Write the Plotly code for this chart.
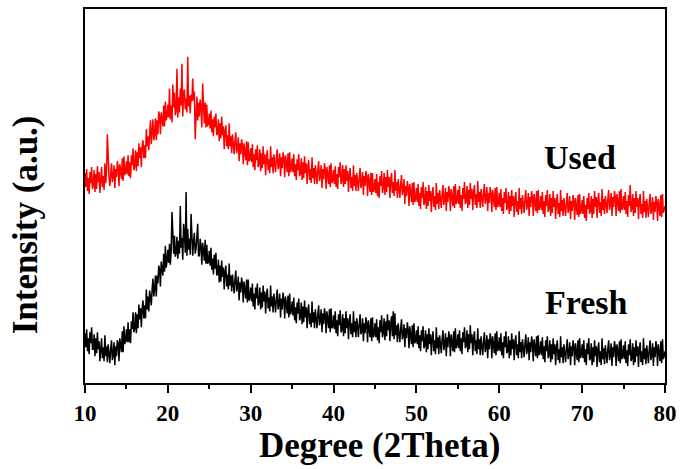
import plotly.graph_objects as go

# 2-theta scan grid (degrees), 0.1 deg steps from 10 to 80
two_theta = [round(10 + 0.1 * i, 1) for i in range(701)]

# one row per degree (x.0 ... x.9), last value at 80.0
fresh = [
    50, 36, 54, 32, 45, 29, 51, 40, 56, 34,
    34, 49, 27, 45, 30, 51, 34, 42, 22, 40,
    45, 25, 36, 22, 48, 27, 37, 21, 39, 30,
    20, 34, 43, 23, 28, 41, 18, 37, 27, 43,
    40, 22, 45, 38, 31, 52, 31, 57, 39, 43,
    54, 41, 61, 41, 54, 40, 62, 54, 71, 51,
    55, 71, 50, 69, 55, 79, 64, 75, 56, 75,
    83, 65, 78, 65, 94, 74, 87, 72, 93, 86,
    78, 94, 105, 87, 94, 108, 87, 108, 100, 118,
    114, 97, 122, 114, 108, 130, 112, 138, 116, 123,
    134, 121, 140, 119, 133, 172, 141, 130, 148, 127,
    131, 147, 125, 143, 130, 178, 136, 146, 124, 160,
    151, 131, 192, 128, 155, 134, 145, 129, 170, 139,
    128, 142, 151, 130, 135, 146, 160, 128, 128, 145,
    138, 119, 141, 133, 123, 144, 120, 139, 120, 122,
    133, 118, 136, 114, 125, 109, 129, 115, 131, 108,
    110, 124, 101, 118, 102, 123, 107, 116, 94, 112,
    118, 97, 109, 94, 120, 98, 108, 92, 109, 99,
    90, 104, 113, 92, 96, 107, 83, 101, 91, 106,
    100, 81, 102, 94, 85, 104, 81, 104, 83, 86,
    96, 82, 100, 77, 90, 74, 96, 85, 100, 78,
    81, 96, 74, 91, 76, 98, 82, 92, 70, 88,
    95, 75, 86, 72, 98, 77, 87, 71, 90, 81,
    71, 85, 94, 74, 79, 90, 66, 85, 74, 91,
    84, 65, 87, 79, 70, 88, 66, 90, 69, 72,
    82, 68, 86, 63, 76, 60, 81, 70, 85, 63,
    66, 81, 59, 77, 61, 83, 66, 76, 55, 73,
    79, 59, 70, 56, 82, 61, 71, 55, 74, 65,
    55, 69, 78, 58, 63, 74, 51, 70, 59, 75,
    69, 50, 72, 64, 55, 74, 51, 75, 55, 57,
    68, 54, 72, 50, 63, 47, 69, 58, 73, 51,
    54, 69, 47, 65, 50, 72, 55, 65, 44, 62,
    69, 49, 60, 46, 72, 51, 62, 46, 65, 56,
    46, 60, 69, 49, 53, 65, 42, 60, 50, 66,
    60, 41, 63, 55, 46, 65, 42, 66, 46, 49,
    60, 46, 64, 43, 56, 40, 63, 51, 68, 46,
    50, 65, 43, 62, 47, 69, 53, 63, 42, 60,
    67, 47, 72, 44, 70, 48, 58, 41, 60, 50,
    41, 55, 64, 44, 48, 59, 36, 55, 45, 61,
    54, 35, 57, 48, 39, 58, 36, 60, 40, 42,
    53, 39, 57, 35, 48, 32, 53, 42, 57, 35,
    38, 53, 31, 49, 34, 55, 39, 49, 28, 45,
    52, 32, 43, 29, 56, 35, 46, 29, 48, 39,
    30, 44, 53, 33, 38, 50, 27, 46, 36, 52,
    46, 27, 49, 41, 32, 52, 31, 55, 35, 38,
    49, 35, 53, 32, 45, 29, 51, 41, 56, 35,
    38, 53, 31, 49, 34, 58, 40, 49, 28, 45,
    52, 32, 43, 29, 55, 34, 44, 28, 47, 37,
    28, 42, 51, 31, 36, 48, 25, 44, 34, 50,
    44, 25, 47, 39, 30, 50, 28, 52, 32, 35,
    46, 32, 50, 28, 41, 25, 47, 36, 52, 30,
    32, 47, 25, 43, 28, 50, 34, 44, 23, 41,
    48, 28, 39, 25, 52, 31, 41, 25, 44, 35,
    26, 40, 49, 29, 34, 46, 23, 41, 31, 47,
    41, 22, 44, 36, 27, 47, 25, 48, 28, 31,
    42, 28, 46, 24, 37, 21, 43, 32, 47, 25,
    28, 43, 21, 39, 24, 45, 29, 39, 18, 36,
    43, 23, 34, 20, 47, 26, 36, 20, 39, 30,
    21, 35, 44, 24, 29, 41, 18, 37, 27, 43,
    37, 18, 40, 32, 23, 43, 21, 45, 25, 28,
    39, 25, 43, 21, 34, 18, 40, 29, 45, 23,
    25, 40, 18, 36, 21, 43, 27, 37, 16, 34,
    41, 21, 32, 18, 45, 24, 35, 19, 38, 29,
    20, 34, 43, 23, 28, 40, 17, 36, 26, 42,
    36, 17, 39, 31, 22, 42, 20, 44, 24, 27,
    38, 24, 42, 20, 33, 17, 39, 28, 44, 22,
    25, 40, 18, 36, 21, 43, 27, 37, 16, 34,
    41, 21, 32, 18, 45, 24, 35, 19, 38, 29,
    20, 34, 43, 23, 28, 40, 17, 36, 26, 42,
    36, 17, 39, 31, 22, 42, 20, 44, 24, 27,
    32,
]

used = [
    211, 197, 215, 193, 206, 190, 212, 201, 217, 195,
    199, 214, 192, 210, 195, 218, 202, 212, 191, 210,
    217, 197, 208, 194, 221, 201, 212, 250, 215, 207,
    198, 212, 221, 202, 207, 219, 196, 215, 207, 223,
    217, 198, 220, 213, 205, 226, 203, 228, 209, 212,
    223, 210, 229, 208, 222, 206, 229, 219, 236, 214,
    218, 234, 213, 232, 218, 241, 226, 237, 217, 239,
    244, 226, 239, 226, 255, 238, 248, 234, 255, 264,
    240, 255, 265, 244, 250, 266, 244, 264, 250, 273,
    268, 250, 272, 265, 258, 279, 258, 283, 264, 268,
    280, 267, 296, 265, 279, 262, 300, 277, 292, 269,
    273, 316, 267, 287, 272, 296, 279, 321, 268, 292,
    295, 275, 286, 272, 328, 278, 289, 271, 290, 283,
    306, 284, 293, 245, 274, 288, 264, 282, 268, 285,
    277, 257, 301, 271, 261, 282, 257, 280, 258, 261,
    271, 256, 274, 252, 265, 248, 268, 257, 271, 249,
    251, 265, 243, 261, 246, 268, 249, 258, 235, 253,
    259, 238, 249, 235, 261, 238, 248, 231, 250, 240,
    230, 243, 252, 231, 236, 247, 223, 241, 230, 245,
    239, 220, 241, 233, 224, 243, 219, 242, 223, 225,
    236, 222, 240, 217, 230, 214, 235, 224, 239, 217,
    220, 235, 213, 231, 216, 238, 220, 230, 209, 227,
    234, 214, 225, 211, 238, 217, 227, 211, 230, 221,
    212, 226, 235, 215, 219, 231, 208, 227, 216, 232,
    226, 207, 229, 221, 212, 231, 208, 232, 212, 215,
    226, 212, 230, 208, 220, 204, 225, 214, 230, 208,
    211, 226, 204, 222, 206, 228, 211, 221, 200, 218,
    224, 204, 215, 201, 227, 206, 216, 200, 219, 210,
    200, 214, 223, 203, 208, 219, 196, 215, 205, 221,
    214, 195, 217, 209, 200, 219, 197, 221, 201, 204,
    214, 200, 218, 197, 210, 195, 217, 207, 222, 200,
    204, 219, 197, 215, 200, 219, 203, 213, 192, 209,
    216, 196, 207, 193, 219, 198, 209, 193, 211, 202,
    193, 207, 216, 196, 201, 212, 189, 208, 198, 213,
    207, 188, 210, 202, 192, 211, 189, 211, 192, 195,
    205, 191, 210, 188, 202, 186, 208, 198, 213, 191,
    196, 211, 189, 207, 192, 214, 197, 207, 186, 204,
    211, 191, 202, 188, 214, 193, 202, 186, 205, 196,
    186, 200, 209, 189, 194, 205, 180, 198, 188, 203,
    197, 178, 200, 192, 182, 201, 179, 202, 182, 185,
    196, 182, 200, 178, 191, 175, 197, 186, 202, 179,
    182, 197, 175, 193, 178, 199, 183, 193, 172, 190,
    197, 177, 188, 174, 201, 180, 191, 175, 194, 185,
    176, 190, 199, 179, 184, 196, 173, 192, 182, 198,
    192, 173, 195, 187, 178, 198, 176, 200, 180, 183,
    194, 180, 198, 176, 189, 173, 196, 185, 202, 180,
    183, 198, 176, 194, 179, 201, 185, 195, 174, 192,
    199, 179, 190, 176, 203, 182, 192, 176, 195, 186,
    177, 191, 200, 180, 185, 197, 173, 191, 181, 197,
    191, 172, 194, 186, 177, 196, 174, 197, 177, 180,
    191, 177, 195, 173, 186, 170, 192, 181, 196, 174,
    177, 192, 170, 188, 173, 194, 178, 188, 167, 185,
    192, 172, 183, 169, 196, 175, 186, 170, 189, 180,
    171, 185, 194, 174, 179, 191, 168, 187, 177, 193,
    187, 168, 190, 182, 173, 193, 171, 194, 174, 177,
    188, 174, 192, 170, 183, 167, 189, 178, 194, 172,
    175, 190, 168, 186, 171, 193, 177, 186, 165, 183,
    190, 170, 181, 167, 194, 173, 184, 168, 186, 177,
    168, 182, 191, 171, 176, 188, 165, 183, 173, 189,
    183, 164, 186, 178, 169, 189, 167, 190, 170, 173,
    184, 170, 188, 166, 179, 163, 186, 175, 191, 170,
    173, 188, 166, 185, 170, 193, 177, 187, 166, 184,
    191, 171, 182, 168, 195, 174, 185, 170, 188, 180,
    171, 185, 194, 174, 179, 191, 168, 187, 177, 193,
    187, 168, 190, 182, 173, 193, 171, 195, 174, 177,
    188, 174, 192, 170, 183, 167, 189, 178, 199, 172,
    175, 190, 168, 186, 171, 193, 177, 186, 165, 183,
    190, 170, 180, 166, 193, 172, 183, 166, 185, 176,
    167, 181, 190, 170, 175, 187, 164, 182, 172, 188,
    182, 163, 185, 177, 168, 189, 167, 190, 171, 174,
    178,
]

x_ticks = [10, 20, 30, 40, 50, 60, 70, 80]
labels = ["Fresh", "Used"]
FONT = '"Liberation Serif", "Times New Roman", Times, serif'

fig = go.Figure()
fig.add_trace(go.Scatter(x=two_theta, y=fresh, mode="lines", name=labels[0],
                         line=dict(color="black", width=1.5)))
fig.add_trace(go.Scatter(x=two_theta, y=used, mode="lines", name=labels[1],
                         line=dict(color="red", width=1.5)))

fig.update_layout(
    width=684, height=469,
    margin=dict(l=85, r=15, t=7, b=86),
    paper_bgcolor="white", plot_bgcolor="white",
    showlegend=False,
    font=dict(family=FONT, color="black"),
)
fig.update_xaxes(
    range=[10, 80], tickvals=x_ticks, ticks="outside", ticklen=8, tickwidth=1.5,
    tickcolor="black", showline=True, linecolor="black", linewidth=2, mirror=True,
    showgrid=False, zeroline=False,
    tickfont=dict(family=FONT, size=23, color="black", weight="bold"),
    minor=dict(dtick=5, tick0=15, ticks="outside", ticklen=4, tickwidth=1.5, tickcolor="black", showgrid=False),
)
fig.update_yaxes(
    range=[0, 376], showticklabels=False, ticks="", showline=True, linecolor="black",
    linewidth=2, mirror=True, showgrid=False, zeroline=False,
)

fig.add_annotation(text="<b>Degree (2Theta)</b>", xref="paper", yref="paper",
                   x=0.5086, y=-0.1676, xanchor="center", yanchor="middle",
                   showarrow=False, font=dict(family=FONT, size=35, color="black"))
fig.add_annotation(text="<b>Intensity (a.u.)</b>", xref="paper", yref="paper",
                   x=-0.1027, y=0.4229, xanchor="center", yanchor="middle", textangle=-90,
                   showarrow=False, font=dict(family=FONT, size=35, color="black"))
fig.add_annotation(text="<b>Used</b>", x=69.8, y=227, xanchor="center", yanchor="middle",
                   showarrow=False, font=dict(family=FONT, size=34, color="black"))
fig.add_annotation(text="<b>Fresh</b>", x=70.5, y=81, xanchor="center", yanchor="middle",
                   showarrow=False, font=dict(family=FONT, size=34, color="black"))

fig.write_html("out.html")
